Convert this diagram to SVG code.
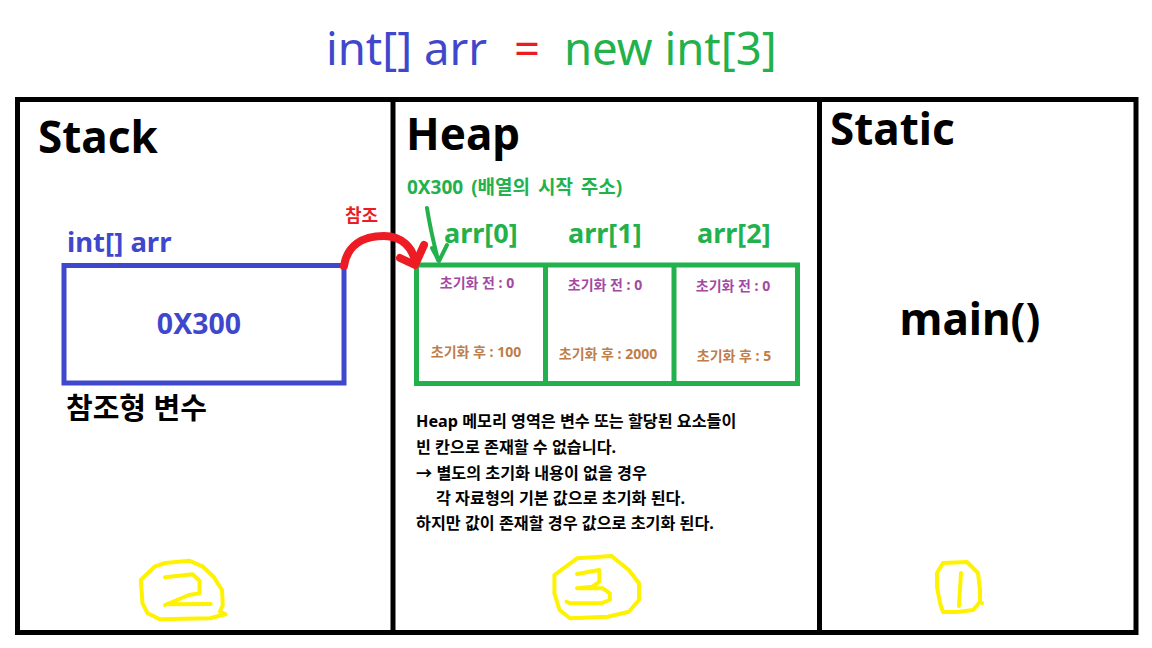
<svg xmlns="http://www.w3.org/2000/svg" width="1152" height="648" viewBox="0 0 1152 648">
<style>
text{font-family:"Noto Sans","Noto Sans CJK KR",sans-serif;font-weight:bold}
.title{font-weight:normal;font-size:45.5px}
.big{font-size:44px;fill:#000}
.blue{fill:#3F48CC}
.green{fill:#22B14C}
.red{fill:#ED1C24}
.pre{fill:#A349A4;font-size:14px}
.post{fill:#BE7E4A;font-size:14px}
.note{font-size:16.2px;fill:#000}
.frame{fill:none;stroke:#000;stroke-width:5}
.yel{fill:none;stroke:#FFF200;stroke-width:4;stroke-linecap:round;stroke-linejoin:round}
</style>
<rect width="1152" height="648" fill="#fff"/>
<g id="title">
<text x="326" y="65" class="title blue">int[] arr</text>
<text x="514" y="65" class="title red">=</text>
<text x="564" y="65" class="title green">new int[3]</text>
</g>
<g id="frame">
<rect x="17.5" y="99.5" width="1118.5" height="533" class="frame"/>
<line x1="393" y1="99.5" x2="393" y2="632.5" class="frame"/>
<line x1="819.5" y1="99.5" x2="819.5" y2="632.5" class="frame"/>
</g>
<g id="stack">
<text x="38" y="153" class="big">Stack</text>
<text x="67" y="252" font-size="27.5" class="blue">int[] arr</text>
<rect x="64" y="265.5" width="280" height="117.5" fill="none" stroke="#3F48CC" stroke-width="5"/>
<text x="199" y="334" font-size="28.5" class="blue" text-anchor="middle">0X300</text>
<text x="66" y="419" font-size="29" fill="#000">참조형 변수</text>
<path class="yel" d="M140.8,580 L154.6,566.7 L165,563 L189,560.7 L203,566.7 L213.5,576.7 L222,590 L222.8,605 L220,611.7 L225.6,614.3 L210,618.3 L159.8,619.3 L147.7,613.3 L142.5,603.3 Z"/>
<path class="yel" d="M165,577.3 L192.7,574.3 L199.6,580.7 L199.6,593.3 L189,595 L177,600 L165,605 M166.7,604.3 L210.7,604"/>
</g>
<g id="heap">
<text x="406" y="150" class="big">Heap</text>
<text x="407" y="194" font-size="19" word-spacing="3" class="green">0X300 (배열의 시작 주소)</text>
<text x="444" y="243" font-size="27" class="green">arr[0]</text>
<text x="568" y="243" font-size="27" class="green">arr[1]</text>
<text x="697" y="243" font-size="27" class="green">arr[2]</text>
<rect x="416.5" y="265" width="381" height="118.5" fill="none" stroke="#22B14C" stroke-width="5"/>
<line x1="545.5" y1="265" x2="545.5" y2="383.5" stroke="#22B14C" stroke-width="5"/>
<line x1="674" y1="265" x2="674" y2="383.5" stroke="#22B14C" stroke-width="5"/>
<text x="477" y="288" class="pre" text-anchor="middle">초기화 전 : 0</text>
<text x="476" y="357" class="post" text-anchor="middle">초기화 후 : 100</text>
<text x="605" y="290" class="pre" text-anchor="middle">초기화 전 : 0</text>
<text x="608" y="359" class="post" text-anchor="middle">초기화 후 : 2000</text>
<text x="733" y="291" class="pre" text-anchor="middle">초기화 전 : 0</text>
<text x="734" y="361" class="post" text-anchor="middle">초기화 후 : 5</text>
<text x="416" y="427" class="note">Heap 메모리 영역은 변수 또는 할당된 요소들이</text>
<text x="416" y="453" class="note">빈 칸으로 존재할 수 없습니다.</text>
<text x="416" y="479" class="note">→ 별도의 초기화 내용이 없을 경우</text>
<text x="436" y="504" class="note">각 자료형의 기본 값으로 초기화 된다.</text>
<text x="416" y="529" class="note">하지만 값이 존재할 경우 값으로 초기화 된다.</text>
<path class="yel" d="M554.4,575 L577,558.3 L611.5,556 L628.8,570 L639,583.3 L639,600 L628.8,611.7 L608,616.7 L570,618.3 L559.6,610 L554.4,593.3 Z"/>
<path class="yel" d="M577,574 L599.4,570 L599.4,581.7 L592.5,586.7 L577,588.3 L602.9,588.3 L609.8,593.3 L609.8,600 L601,603.3 L570,603.3 L566.5,601.7"/>
</g>
<g id="static">
<text x="830" y="145" class="big">Static</text>
<text x="970" y="335" class="big" text-anchor="middle">main()</text>
<path class="yel" d="M943,563 L967,562 L978,573 L980,590 L980,602 L973,610 L957,612 L943,612 L940,603 L937,587 L937,573 Z M980,602 L982,603"/>
<path class="yel" d="M961,573 L959,606"/>
</g>
<g id="connectors">
<text x="345" y="222" font-size="18" class="red">참조</text>
<path d="M344,266 C347,246 362,236 384,236 C402,236 413,248 415,262" fill="none" stroke="#ED1C24" stroke-width="8" stroke-linecap="round"/>
<path d="M400,258 L415,265 L424,245" fill="none" stroke="#ED1C24" stroke-width="8" stroke-linecap="round" stroke-linejoin="round"/>
<path d="M427,208 C430,228 434,244 438,260" fill="none" stroke="#22B14C" stroke-width="4" stroke-linecap="round"/>
<path d="M432,248 L439,261 L447,245" fill="none" stroke="#22B14C" stroke-width="4" stroke-linecap="round" stroke-linejoin="round"/>
</g>
</svg>
